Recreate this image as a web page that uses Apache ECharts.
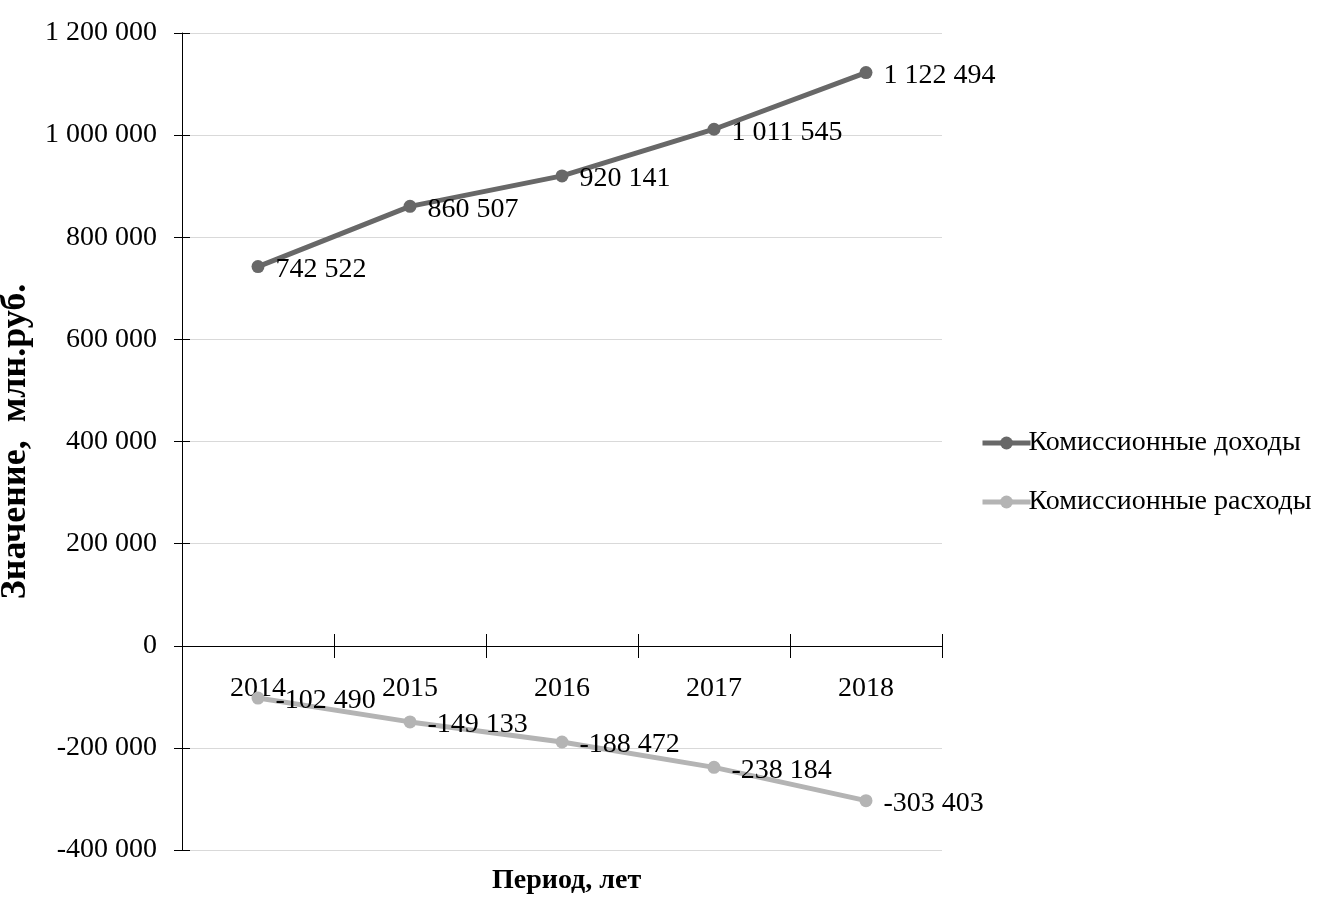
<!DOCTYPE html>
<html>
<head>
<meta charset="utf-8">
<title>Комиссионные доходы и расходы</title>
<script src="https://cdn.jsdelivr.net/npm/echarts@6/dist/echarts.min.js"></script>
<style>
  html, body { margin: 0; padding: 0; background: #fff; }
  #chart { width: 1319px; height: 899px; }
</style>
</head>
<body>
<div id="chart"></div>
<script>
// данные с графика
const years = ['2014', '2015', '2016', '2017', '2018'];
const incomeValues = [742522, 860507, 920141, 1011545, 1122494];
const expenseValues = [-102490, -149133, -188472, -238184, -303403];
const seriesNames = ['Комиссионные доходы', 'Комиссионные расходы'];

const FONT = '"Liberation Serif", "DejaVu Serif", serif';
const FS = 28;

// 1122494 -> "1 122 494"
function spaced(v) {
  const s = String(Math.abs(v)).replace(/\B(?=(\d{3})+(?!\d))/g, ' ');
  return (v < 0 ? '-' : '') + s;
}

const chart = echarts.init(document.getElementById('chart'));

// ось X стоит на нуле: сдвигаем её вверх от низа сетки
const X_OFFSET = -204;

const pointLabel = {
  show: true,
  position: 'right',
  distance: 11,
  offset: [0, 3],
  color: '#000',
  fontFamily: FONT,
  fontSize: FS,
  formatter: p => spaced(p.value)
};

chart.setOption({
  animation: false,
  textStyle: { fontFamily: FONT },
  title: {
    text: 'Период, лет',
    left: 487,
    top: 862,
    textStyle: { fontFamily: FONT, fontSize: FS, fontWeight: 'bold', color: '#000' }
  },
  legend: {
    orient: 'vertical',
    left: 975,
    top: 424,
    itemGap: 31,
    itemWidth: 48,
    itemHeight: 16,
    lineStyle: { width: 5 },
    textStyle: { fontFamily: FONT, fontSize: FS, color: '#000', padding: [0, 0, 0, -7] },
    data: seriesNames
  },
  grid: { left: 182, right: 377, top: 33, bottom: 49, outerBoundsMode: 'none', containLabel: false },
  xAxis: [
    {
      type: 'category',
      data: years,
      position: 'bottom',
      offset: X_OFFSET,
      boundaryGap: true,
      axisLine: { onZero: false, lineStyle: { color: '#000', width: 1 } },
      axisTick: { show: true, length: 12, lineStyle: { color: '#000' } },
      axisLabel: { margin: 29, color: '#000', fontFamily: FONT, fontSize: FS },
      splitLine: { show: false }
    },
    {
      // второй слой — засечки внутрь (пересекающие ось)
      type: 'category',
      data: years,
      position: 'bottom',
      offset: X_OFFSET,
      boundaryGap: true,
      axisLine: { show: false, onZero: false },
      axisTick: { show: true, inside: true, length: 12, lineStyle: { color: '#000' } },
      axisLabel: { show: false },
      splitLine: { show: false }
    }
  ],
  yAxis: [
    {
      type: 'value',
      min: -400000,
      max: 1200000,
      interval: 200000,
      name: 'Значение,  млн.руб.',
      nameLocation: 'middle',
      nameGap: 141,
      nameTextStyle: { fontFamily: FONT, fontSize: 36, fontWeight: 'bold', color: '#000' },
      axisLine: { show: true, lineStyle: { color: '#000', width: 1 } },
      axisTick: { show: true, length: 8, lineStyle: { color: '#000' } },
      axisLabel: { margin: 25, color: '#000', fontFamily: FONT, fontSize: FS, formatter: v => spaced(v) },
      splitLine: { show: true, lineStyle: { color: '#d9d9d9', width: 1 } }
    },
    {
      type: 'value',
      position: 'left',
      offset: 0,
      min: -400000,
      max: 1200000,
      interval: 200000,
      axisLine: { show: false },
      axisTick: { show: true, inside: true, length: 8, lineStyle: { color: '#000' } },
      axisLabel: { show: false },
      splitLine: { show: false }
    }
  ],
  series: [
    {
      name: seriesNames[0],
      type: 'line',
      data: incomeValues,
      color: '#686868',
      symbol: 'circle',
      symbolSize: 13,
      lineStyle: { width: 5, color: '#686868' },
      itemStyle: { color: '#686868' },
      label: pointLabel,
      z: 3
    },
    {
      name: seriesNames[1],
      type: 'line',
      data: expenseValues,
      color: '#b4b4b4',
      symbol: 'circle',
      symbolSize: 13,
      lineStyle: { width: 5, color: '#b4b4b4' },
      itemStyle: { color: '#b4b4b4' },
      label: pointLabel,
      z: 3
    }
  ]
});
</script>
</body>
</html>
